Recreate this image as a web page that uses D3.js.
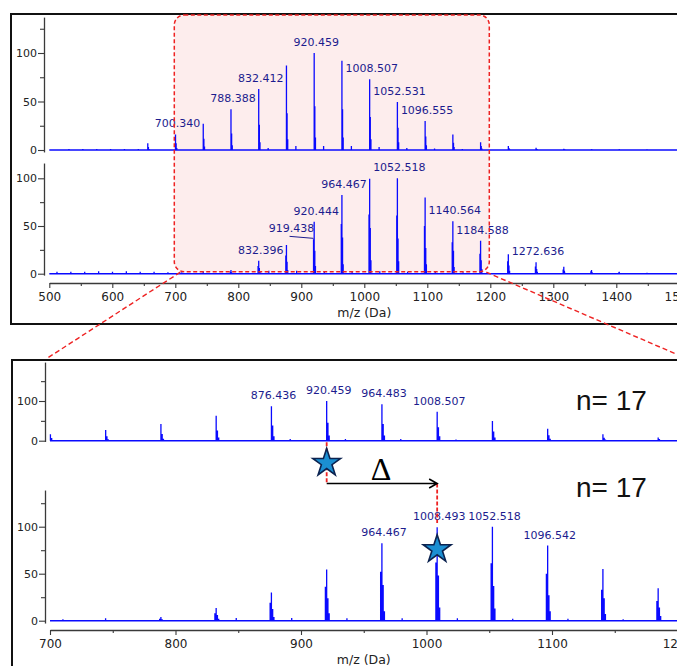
<!DOCTYPE html>
<html>
<head>
<meta charset="utf-8">
<script src="https://cdn.jsdelivr.net/npm/d3@7"></script>
<style>
  body { margin: 0; background: #fff; }
  svg { display: block; }
</style>
</head>
<body>
<svg id="chart" width="677" height="666"></svg>
<script>
// ---------- data ----------
// Reference series: m/z of the tallest isotope stick and the relative
// intensities (%) of that stick and of the +1 / +2 isotope sticks.
const refMz   = [656.316, 700.340, 744.364, 788.388, 832.412, 876.436, 920.459, 964.483, 1008.507, 1052.531, 1096.555, 1140.579, 1184.603, 1228.627, 1272.651, 1316.675, 1360.699];
const refMain = [7, 16, 27, 42, 63, 87, 100, 92, 73, 49.5, 30, 16, 8, 4, 2.4, 1.2, 0.7];
const refIso1 = [3, 7, 11.5, 17, 26, 38, 45, 42, 34, 23, 14, 7.5, 4, 2, 1, 0.5, 0.3];
const refIso2 = [1, 2, 3.5, 5, 8, 11, 13, 13, 11, 8, 5, 3, 1.5, 0.8, 0.4, 0.2, 0];
const refMinorMz = [531.2, 553.2, 575.3, 597.3, 619.3, 641.3, 847.4, 891.4, 935.4, 979.5, 1023.5, 1067.5, 1111.5, 1155.6, 1404.7, 1448.7];
const refMinorH  = [1, 1, 1, 1, 1, 1, 2, 4, 4, 4, 3, 2, 1.5, 1, 0.8, 0.6];

// Sample series: tallest stick m/z, then the stick one unit below it,
// the tallest stick and the +1 / +2 sticks (relative intensity, %).
const smpMz   = [788.370, 832.396, 876.420, 920.444, 964.467, 1008.493, 1052.518, 1096.542, 1140.564, 1184.588, 1228.612, 1272.636, 1316.660, 1360.684, 1404.708, 1448.732];
const smpPre  = [2, 8, 19, 36, 52, 62, 61, 50, 33, 21, 13, 7.5, 4.5, 2.5, 1.2, 0.6];
const smpMain = [4, 13.5, 30, 54.5, 82.5, 99.5, 100, 80, 55, 34.5, 20.3, 12, 7.3, 4, 2, 1];
const smpIso1 = [1.5, 6, 12.5, 24, 38, 48, 37, 27, 24, 14, 8.5, 5, 3, 1.6, 0.8, 0.4];
const smpIso2 = [0.5, 2, 4, 8, 10, 14, 13, 10, 7, 5, 3, 2, 1, 0.5, 0.3, 0];
const smpMinorMz = [512.2, 534.2, 556.2, 578.3, 600.3, 622.3, 644.3, 666.3, 688.3, 710.3, 744.3, 848.4, 892.6, 936.6, 980.6, 1024.6, 1068.7, 1112.7, 1156.7];
const smpMinorH  = [2, 2, 2, 2.5, 2, 2.5, 2, 2, 1.5, 1.5, 2.5, 3, 3, 2.5, 2.5, 2.5, 2, 2, 1.5];

// Annotated peaks
const topRefLabels = [700.340, 788.388, 832.412, 920.459, 1008.507, 1052.531, 1096.555];
const topSmpLabels = [832.396, 920.444, 964.467, 1052.518, 1140.564, 1184.588, 1272.636];
const topSmpLeaderLabel = 919.438;
const botRefLabels = [876.436, 920.459, 964.483, 1008.507];
const botSmpLabels = [964.467, 1008.493, 1052.518, 1096.542];

// Repeat-unit marks and counts
const deltaFrom = 920.459;
const deltaTo = 1008.493;
const repeatCount = "n= 17";

// Axis ticks
const topXTicks = d3.range(500, 1501, 100);
const topXMinor = d3.range(550, 1500, 100);
const botXTicks = d3.range(700, 1201, 100);
const botXMinor = d3.range(750, 1200, 100);
const xTitle = "m/z (Da)";

// ---------- setup ----------
const ISO = 1.003;
const BLUE = "#0a0aff";
const LABEL = "#1c1c8e";
const AXIS = "#3a3a3a";
const FONT = "DejaVu Sans, Verdana, sans-serif";
const RED = "#ee2222";

const svg = d3.select("#chart");

const xTop = d3.scaleLinear().domain([500, 1500]).range([49.3, 679.3]);
const xBot = d3.scaleLinear().domain([700, 1200]).range([50, 677.5]);
const yTop1 = d3.scaleLinear().domain([0, 100]).range([150, 53]);
const yTop2 = d3.scaleLinear().domain([0, 100]).range([273.7, 178.3]);
const yBot1 = d3.scaleLinear().domain([0, 100]).range([440.7, 401]);
const yBot2 = d3.scaleLinear().domain([0, 100]).range([620.7, 526.7]);

function buildRef() {
  const s = [];
  refMz.forEach((m, i) => {
    s.push({ mz: m, h: refMain[i] }, { mz: m + ISO, h: refIso1[i] }, { mz: m + 2 * ISO, h: refIso2[i] });
  });
  refMinorMz.forEach((m, i) => s.push({ mz: m, h: refMinorH[i] }));
  return s;
}
function buildSmp() {
  const s = [];
  smpMz.forEach((m, i) => {
    s.push({ mz: m - 1.006, h: smpPre[i] }, { mz: m, h: smpMain[i] },
           { mz: m + ISO, h: smpIso1[i] }, { mz: m + 2 * ISO, h: smpIso2[i] });
  });
  smpMinorMz.forEach((m, i) => s.push({ mz: m, h: smpMinorH[i] }));
  return s;
}
const refSticks = buildRef();
const smpSticks = buildSmp();

const defs = svg.append("defs");
function clip(id, x0, x1) {
  defs.append("clipPath").attr("id", id)
    .append("rect").attr("x", x0).attr("y", 0).attr("width", x1 - x0).attr("height", 666);
}
clip("clipTop", 48, 677);
clip("clipBot", 49, 677);

// ---------- frames ----------
svg.append("rect").attr("x", 11).attr("y", 14).attr("width", 720).attr("height", 310)
  .attr("fill", "none").attr("stroke", "#111").attr("stroke-width", 2);
svg.append("rect").attr("x", 12).attr("y", 360).attr("width", 720).attr("height", 400)
  .attr("fill", "none").attr("stroke", "#111").attr("stroke-width", 2);

// zoom window (fill behind spectra)
const zx0 = xTop(700) - 1, zx1 = xTop(1200) - 1, zy0 = 15, zy1 = 271.7;
svg.append("rect").attr("x", zx0).attr("y", zy0).attr("width", zx1 - zx0).attr("height", zy1 - zy0)
  .attr("rx", 10).attr("ry", 10).attr("fill", "#fdeded");

// ---------- helpers ----------
function drawSpectrum(sticks, x, y, clipId) {
  const g = svg.append("g").attr("clip-path", `url(#${clipId})`);
  g.append("line")
    .attr("x1", x.range()[0]).attr("x2", x.range()[1])
    .attr("y1", y(0)).attr("y2", y(0))
    .attr("stroke", BLUE).attr("stroke-width", 1.6);
  g.append("path")
    .attr("d", sticks.filter(d => d.h > 0).map(d => `M${x(d.mz)},${y(0)}V${y(d.h)}`).join(""))
    .attr("stroke", BLUE).attr("stroke-width", 1.3).attr("fill", "none");
}

function drawLabels(list, mzArr, hArr, x, y) {
  svg.append("g").selectAll("text").data(list).join("text")
    .attr("x", d => x(d) + 2)
    .attr("y", d => y(hArr[mzArr.findIndex(m => Math.abs(m - d) < 0.002)]) - 7)
    .attr("text-anchor", "middle")
    .attr("font-family", FONT).attr("font-size", 11).attr("fill", LABEL)
    .text(d => d.toFixed(3));
}

function yAxis(y, x0, lo, hi, major, minor) {
  const s = y.copy().domain([lo, hi]).range([y(lo), y(hi)]);
  const g = svg.append("g").attr("transform", `translate(${x0},0)`);
  g.append("g").call(d3.axisLeft(s).tickValues(major).tickSize(6).tickSizeOuter(0).tickPadding(1).tickFormat(d3.format("d")));
  g.append("g").call(d3.axisLeft(s).tickValues(minor).tickSize(4).tickFormat(""))
    .select(".domain").remove();
  styleAxis(g, 11);
}

function xAxis(x, y0, major, minor, titleY) {
  const g = svg.append("g").attr("transform", `translate(0,${y0})`);
  g.append("g").call(d3.axisBottom(x).tickValues(major).tickSize(5).tickSizeOuter(0).tickPadding(4).tickFormat(d3.format("d")));
  g.append("g").call(d3.axisBottom(x).tickValues(minor).tickSize(3).tickFormat(""))
    .select(".domain").remove();
  styleAxis(g, 12);
  const [a, b] = x.domain();
  svg.append("text").attr("x", x((a + b) / 2)).attr("y", titleY)
    .attr("text-anchor", "middle").attr("font-family", FONT).attr("font-size", 12.5)
    .attr("fill", "#222").text(xTitle);
}

function styleAxis(g, fs) {
  g.selectAll(".domain").attr("stroke", AXIS).attr("stroke-width", 1.3);
  g.selectAll(".tick line").attr("stroke", AXIS).attr("stroke-width", 1.1);
  g.selectAll(".tick text").attr("font-family", FONT).attr("font-size", fs).attr("fill", "#222");
}

// ---------- top panel ----------
drawSpectrum(refSticks, xTop, yTop1, "clipTop");
drawSpectrum(smpSticks, xTop, yTop2, "clipTop");
drawLabels(topRefLabels, refMz, refMain, xTop, yTop1);
drawLabels(topSmpLabels, smpMz, smpMain, xTop, yTop2);

// label with leader line for the lighter isotope stick
{
  const i = smpMz.findIndex(m => Math.abs(m - (topSmpLeaderLabel + 1.006)) < 0.002);
  const px = xTop(topSmpLeaderLabel), py = yTop2(smpPre[i]);
  const lx = px - 22, ly = py - 7;
  svg.append("text").attr("x", lx).attr("y", ly).attr("text-anchor", "middle")
    .attr("font-family", FONT).attr("font-size", 11).attr("fill", LABEL)
    .text(topSmpLeaderLabel.toFixed(3));
  svg.append("line").attr("x1", lx - 2).attr("y1", ly + 4).attr("x2", px).attr("y2", py - 1)
    .attr("stroke", LABEL).attr("stroke-width", 1);
}

yAxis(yTop1, 44, -2, 137, [0, 50, 100], [25, 75, 125]);
yAxis(yTop2, 44, -1.5, 116, [0, 50, 100], [25, 75]);
xAxis(xTop, 283, topXTicks, topXMinor, 317);

// zoom window outline and connector lines
svg.append("rect").attr("x", zx0).attr("y", zy0).attr("width", zx1 - zx0).attr("height", zy1 - zy0)
  .attr("rx", 10).attr("ry", 10).attr("fill", "none")
  .attr("stroke", RED).attr("stroke-width", 1.5).attr("stroke-dasharray", "4,2.5");
svg.append("line").attr("x1", zx0 + 6).attr("y1", zy1 + 0.5).attr("x2", xBot(700) - 4).attr("y2", 359)
  .attr("stroke", RED).attr("stroke-width", 1.4).attr("stroke-dasharray", "5,3");
svg.append("line").attr("x1", zx1 - 3).attr("y1", zy1 + 0.5).attr("x2", 690).attr("y2", 360)
  .attr("stroke", RED).attr("stroke-width", 1.4).attr("stroke-dasharray", "5,3");

// ---------- bottom panel ----------
drawSpectrum(refSticks, xBot, yBot1, "clipBot");
drawSpectrum(smpSticks, xBot, yBot2, "clipBot");
drawLabels(botRefLabels, refMz, refMain, xBot, yBot1);
drawLabels(botSmpLabels, smpMz, smpMain, xBot, yBot2);

yAxis(yBot1, 45, -2, 198, [0, 100], [50, 150]);
yAxis(yBot2, 45, -2.5, 139, [0, 50, 100], [25, 75, 125]);
xAxis(xBot, 630, botXTicks, botXMinor, 664);

// repeat-unit annotation
const ax0 = xBot(deltaFrom), ax1 = xBot(deltaTo), arrowY = 483.5;
svg.append("line").attr("x1", ax0).attr("x2", ax0).attr("y1", yBot1(0) + 1.5).attr("y2", arrowY)
  .attr("stroke", RED).attr("stroke-width", 1.8).attr("stroke-dasharray", "4,2");
svg.append("line").attr("x1", ax1).attr("x2", ax1).attr("y1", arrowY).attr("y2", yBot2(104))
  .attr("stroke", RED).attr("stroke-width", 1.8).attr("stroke-dasharray", "4,2");
svg.append("path")
  .attr("d", `M${ax0},${arrowY}H${ax1}M${ax1 - 8},${arrowY - 4.5}L${ax1},${arrowY}L${ax1 - 8},${arrowY + 4.5}`)
  .attr("fill", "none").attr("stroke", "#000").attr("stroke-width", 1.6);
svg.append("text").attr("x", (ax0 + ax1) / 2 - 1).attr("y", 480).attr("text-anchor", "middle")
  .attr("font-family", "Liberation Serif, Times New Roman, serif").attr("font-size", 32)
  .attr("fill", "#000").text("Δ");

const star = d3.symbol(d3.symbolStar, 240);
svg.append("path").attr("d", star()).attr("transform", `translate(${ax0},463)`)
  .attr("fill", "#1b8fd2").attr("stroke", "#0c2350").attr("stroke-width", 1.6);
svg.append("path").attr("d", star()).attr("transform", `translate(${ax1},${yBot2(76)})`)
  .attr("fill", "#1b8fd2").attr("stroke", "#0c2350").attr("stroke-width", 1.6);

svg.append("text").attr("x", 576).attr("y", 410)
  .attr("font-family", "Liberation Sans, Arial, sans-serif").attr("font-size", 28).attr("fill", "#111")
  .text(repeatCount);
svg.append("text").attr("x", 576).attr("y", 497)
  .attr("font-family", "Liberation Sans, Arial, sans-serif").attr("font-size", 28).attr("fill", "#111")
  .text(repeatCount);
</script>
</body>
</html>
